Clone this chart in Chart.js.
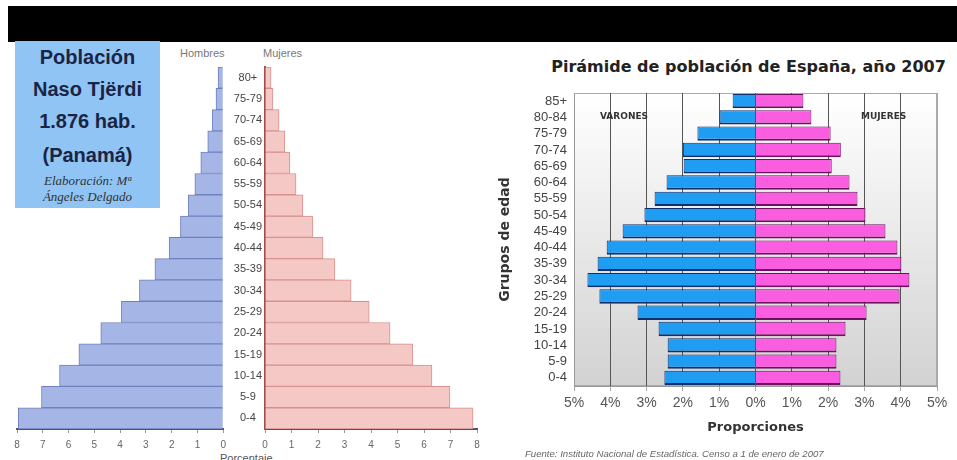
<!DOCTYPE html>
<html lang="es">
<head>
<meta charset="utf-8">
<title>Pirámides de población</title>
<script src="https://cdn.jsdelivr.net/npm/chart.js@4.4.1/dist/chart.umd.min.js"></script>
<style>
    html, body { margin: 0; padding: 0; background: #fff; }
    body { position: relative; width: 957px; height: 460px; overflow: hidden; font-family: "Liberation Sans", Arial, sans-serif; }
    .abs { position: absolute; white-space: nowrap; }
    #franja { left: 8px; top: 6px; width: 949px; height: 36px; background: #000; }
    #cuadro { left: 15px; top: 41px; width: 145px; height: 167px; background: #90c4f4; }
    .linea { position: absolute; left: 0; width: 145px; text-align: center; font-weight: bold; font-size: 20px; line-height: 24px; color: #1b2444; }
    .firma { position: absolute; left: 0; width: 145px; text-align: center; font-family: "Liberation Serif", serif; font-style: italic; font-size: 13px; line-height: 16px; color: #333; }
    .sexo { font-size: 11px; line-height: 14px; color: #777; }
    .caja { position: absolute; }
    #titulo { left: 540px; top: 57px; width: 417px; text-align: center; font-family: "DejaVu Sans", sans-serif; font-weight: bold; font-size: 16px; line-height: 20px; color: #222; }
    .rotulo { font-family: "DejaVu Sans", sans-serif; font-weight: bold; font-size: 9px; line-height: 10px; color: #333; }
    #fuente { left: 525px; top: 449px; font-size: 9.6px; line-height: 10px; font-style: italic; color: #666; }
</style>
</head>
<body>

<div id="franja" class="abs"></div>

<div id="cuadro" class="abs">
    <div class="linea" style="top:4px">Población</div>
    <div class="linea" style="top:36px">Naso Tjërdi</div>
    <div class="linea" style="top:68px">1.876 hab.</div>
    <div class="linea" style="top:102px">(Panamá)</div>
    <div class="firma" style="top:132px">Elaboración: Mª</div>
    <div class="firma" style="top:148px">Ángeles Delgado</div>
</div>

<div class="abs sexo" style="left:180px; top:46px">Hombres</div>
<div class="abs sexo" style="left:263px; top:46px">Mujeres</div>
<div class="abs sexo" style="left:220px; top:451px; color:#555">Porcentaje</div>

<div class="caja" style="left:0; top:42px; width:232px; height:418px"><canvas id="naso-hombres"></canvas></div>
<div class="caja" style="left:232px; top:42px; width:258px; height:418px"><canvas id="naso-mujeres"></canvas></div>

<div id="titulo" class="abs">Pirámide de población de España, año 2007</div>
<div class="caja" style="left:490px; top:42px; width:467px; height:418px"><canvas id="espana"></canvas></div>
<div class="abs rotulo" style="left:600px; top:111px">VARONES</div>
<div class="abs rotulo" style="left:861px; top:111px">MUJERES</div>
<div id="fuente" class="abs">Fuente: Instituto Nacional de Estadística. Censo a 1 de enero de 2007</div>

<script>
    // Naso Tjërdi (porcentaje por grupo de edad)
    var edadesNaso = ['0-4', '5-9', '10-14', '15-19', '20-24', '25-29', '30-34', '35-39', '40-44',
        '45-49', '50-54', '55-59', '60-64', '65-69', '70-74', '75-79', '80+'];
    var hombresNaso = [7.95, 7.05, 6.35, 5.6, 4.75, 3.95, 3.25, 2.65, 2.1, 1.66, 1.36, 1.1, 0.87, 0.6, 0.43, 0.28, 0.2];
    var mujeresNaso = [7.85, 6.98, 6.3, 5.58, 4.72, 3.93, 3.25, 2.64, 2.19, 1.81, 1.43, 1.17, 0.94, 0.75, 0.53, 0.3, 0.23];
    var maxNaso = 8;

    // España 2007 (proporciones en %)
    var edadesEsp = ['0-4', '5-9', '10-14', '15-19', '20-24', '25-29', '30-34', '35-39', '40-44',
        '45-49', '50-54', '55-59', '60-64', '65-69', '70-74', '75-79', '80-84', '85+'];
    var varonesEsp = [2.51, 2.42, 2.42, 2.67, 3.25, 4.3, 4.63, 4.35, 4.1, 3.66, 3.06, 2.78, 2.45, 1.98, 2.0, 1.6, 0.99, 0.63];
    var mujeresEsp = [2.34, 2.23, 2.23, 2.48, 3.06, 3.97, 4.24, 4.02, 3.91, 3.58, 3.03, 2.81, 2.59, 2.1, 2.35, 2.07, 1.54, 1.32];
    var maxEsp = 5;

    Chart.defaults.font.family = '"Liberation Sans", Arial, sans-serif';
    Chart.defaults.animation = false;
    Chart.defaults.responsive = true;
    Chart.defaults.maintainAspectRatio = false;
    Chart.defaults.plugins.legend.display = false;
    Chart.defaults.plugins.tooltip.enabled = false;

    function ejeNaso(invertido) {
        return {
            reverse: invertido,
            min: 0,
            max: maxNaso,
            ticks: { stepSize: 1, color: '#666', font: { size: 10 }, padding: 6 },
            grid: { drawOnChartArea: false, tickLength: 4, color: '#999' },
            border: { color: '#555', width: 2 },
            afterFit: function(scale) { scale.height = 31; }
        };
    }

    // Hombres
    new Chart(document.getElementById('naso-hombres'), {
        type: 'bar',
        data: {
            labels: edadesNaso,
            datasets: [{
                data: hombresNaso,
                backgroundColor: '#a5b5e6',
                borderColor: '#6f80bd',
                borderWidth: { top: 1, bottom: 1, left: 1, right: 0 },
                borderSkipped: false,
                barPercentage: 1,
                categoryPercentage: 1
            }]
        },
        options: {
            indexAxis: 'y',
            layout: { padding: { top: 25, left: 17, right: 2, bottom: 0 } },
            scales: {
                x: ejeNaso(true),
                y: { display: false, reverse: true }
            }
        }
    });

    // Mujeres (con las edades en el eje)
    new Chart(document.getElementById('naso-mujeres'), {
        type: 'bar',
        data: {
            labels: edadesNaso,
            datasets: [{
                data: mujeresNaso,
                backgroundColor: '#f4c8c4',
                borderColor: '#d8918e',
                borderWidth: { top: 1, bottom: 1, left: 0, right: 1 },
                borderSkipped: false,
                barPercentage: 1,
                categoryPercentage: 1
            }]
        },
        options: {
            indexAxis: 'y',
            layout: { padding: { top: 25, left: 0, right: 13, bottom: 0 } },
            scales: {
                x: ejeNaso(false),
                y: {
                    reverse: true,
                    ticks: { color: '#444', font: { size: 11 }, padding: 3, crossAlign: 'center', autoSkip: false },
                    grid: { drawOnChartArea: false, drawTicks: false },
                    border: { color: '#a34c4c', width: 2 },
                    afterFit: function(scale) { scale.width = 33; }
                }
            }
        }
    });

    // Fondo degradado y marco del área de trazado
    var fondoPlot = {
        id: 'fondoPlot',
        beforeDraw: function(chart) {
            var a = chart.chartArea, ctx = chart.ctx;
            var g = ctx.createLinearGradient(0, a.top, 0, a.bottom);
            g.addColorStop(0, '#ffffff');
            g.addColorStop(0.45, '#ebebeb');
            g.addColorStop(1, '#d2d2d2');
            ctx.save();
            ctx.fillStyle = g;
            ctx.fillRect(a.left, a.top, a.right - a.left, a.bottom - a.top);
            ctx.strokeStyle = '#aaa';
            ctx.lineWidth = 1;
            ctx.strokeRect(a.left + 0.5, a.top + 0.5, a.right - a.left - 1, a.bottom - a.top - 1);
            ctx.restore();
        }
    };

    new Chart(document.getElementById('espana'), {
        type: 'bar',
        data: {
            labels: edadesEsp,
            datasets: [{
                label: 'Varones',
                data: varonesEsp.map(function(v) { return -v; }),
                backgroundColor: '#1f9df2',
                borderColor: '#0e2f6e',
                borderWidth: { top: 1, bottom: 2, left: 1, right: 0 },
                borderSkipped: false,
                barPercentage: 0.88,
                categoryPercentage: 1
            }, {
                label: 'Mujeres',
                data: mujeresEsp,
                backgroundColor: '#fb5de0',
                borderColor: '#6c1160',
                borderWidth: { top: 1, bottom: 2, left: 0, right: 1 },
                borderSkipped: false,
                barPercentage: 0.88,
                categoryPercentage: 1
            }]
        },
        options: {
            indexAxis: 'y',
            layout: { padding: { top: 51, left: 0, right: 20, bottom: 0 } },
            scales: {
                x: {
                    stacked: true,
                    min: -maxEsp,
                    max: maxEsp,
                    ticks: {
                        stepSize: 1,
                        color: '#555',
                        font: { size: 14 },
                        padding: 4,
                        callback: function(v) { return Math.abs(v) + '%'; }
                    },
                    grid: {
                        color: function(c) { return (c.tick && Math.abs(c.tick.value) === maxEsp) ? '#aaa' : '#555'; },
                        tickColor: '#aaa',
                        tickLength: 5
                    },
                    border: { color: '#999' },
                    title: {
                        display: true,
                        text: 'Proporciones',
                        color: '#333',
                        font: { family: '"DejaVu Sans", sans-serif', size: 13, weight: 'bold' },
                        padding: { top: 0, bottom: 25 }
                    },
                    afterFit: function(scale) { scale.height = 74; }
                },
                y: {
                    stacked: true,
                    reverse: true,
                    ticks: { color: '#444', font: { size: 13 }, padding: 7, autoSkip: false },
                    grid: { drawOnChartArea: false, drawTicks: false },
                    border: { color: '#999' },
                    title: {
                        display: true,
                        text: 'Grupos de edad',
                        color: '#333',
                        font: { family: '"DejaVu Sans", sans-serif', size: 14, weight: 'bold' },
                        padding: { top: 7, bottom: 0 }
                    },
                    afterFit: function(scale) { scale.width = 84; }
                }
            }
        },
        plugins: [fondoPlot]
    });
</script>
</body>
</html>
